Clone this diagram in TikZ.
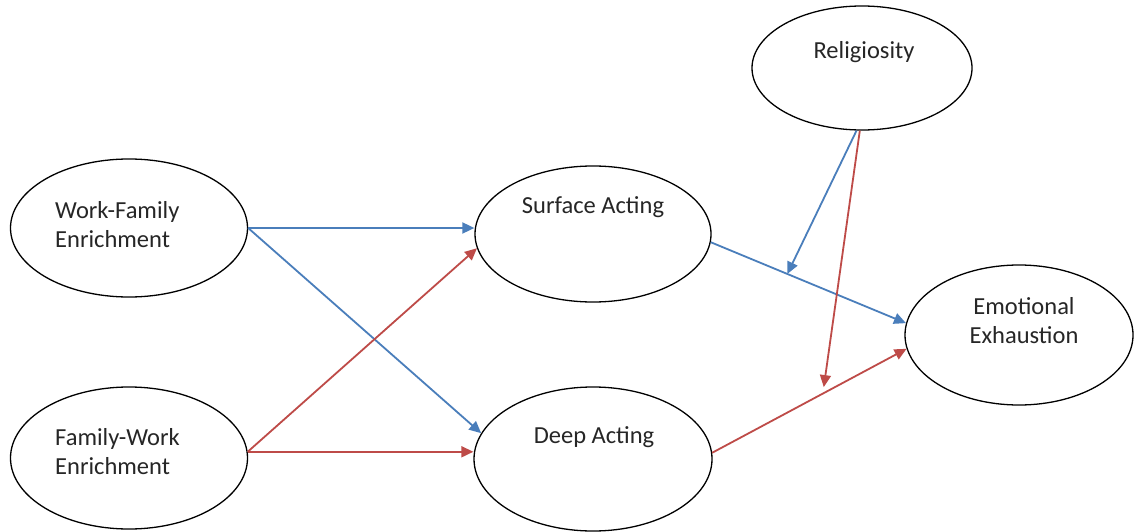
\documentclass[tikz,border=0pt]{standalone}
\usepackage{fontspec}
\setmainfont{Carlito}
\usetikzlibrary{shapes.geometric,arrows.meta,calc}
\definecolor{arrblue}{RGB}{74,126,187}
\definecolor{arrred}{RGB}{190,75,72}
\begin{document}
\begin{tikzpicture}[x=1pt,y=-1pt,
  oval/.style={ellipse,draw=black,line width=1.3pt,inner sep=0pt},
  lbl/.style={font=\fontsize{24.5}{29}\selectfont,text=black!85,inner sep=0pt},
  bluarr/.style={draw=arrblue,line width=1.8pt,-{Triangle[length=12pt,width=11pt]}},
  redarr/.style={draw=arrred,line width=1.8pt,-{Triangle[length=12pt,width=11pt]}}
]
\fill[white] (0,0) rectangle (1134,532);
\useasboundingbox (0,0) rectangle (1134,532);

\node[oval,minimum width=237pt,minimum height=138pt] (wf) at (129,228) {};
\node[oval,minimum width=237pt,minimum height=142pt] (fw) at (129,458) {};
\node[oval,minimum width=236pt,minimum height=136pt] (sa) at (593,234) {};
\node[oval,minimum width=238pt,minimum height=144pt] (da) at (593,459) {};
\node[oval,minimum width=220pt,minimum height=124pt] (rel) at (862,68) {};
\node[oval,minimum width=228pt,minimum height=140pt] (ee) at (1019,335) {};

\node[lbl,align=left,anchor=west] (wft) at (55,225) {Work-Family\\Enrichment};
\node[lbl,align=left,anchor=west] (fwt) at (55,452) {Family-Work\\Enrichment};
\node[lbl,anchor=base] (sat) at (593,213) {Surface Acting};
\node[lbl,anchor=base] (dat) at (594,443) {Deep Acting};
\node[lbl,anchor=base] (relt) at (864,59) {Religiosity};
\node[lbl,align=center] (eet) at (1024,321) {Emotional\\Exhaustion};

\draw[bluarr] (wf.east) -- (wf.east -| sa.west);
\draw[bluarr] (wf.east) -- (da.167);
\draw[redarr] (fw.3) -- (sa.187);
\draw[redarr] (fw.3) -- (fw.3 -| da.west);
\draw[bluarr] (sa.356) -- (ee.174);
\draw[redarr] (da.3) -- (ee.187);
\coordinate (m1) at ($(sa.356)!0.392!(ee.174)$);
\coordinate (m2) at ($(da.3)!0.574!(ee.187)+(0,-6)$);
\draw[bluarr] (rel.265) -- (m1);
\draw[redarr] (rel.268) -- (m2);
\end{tikzpicture}
\end{document}
